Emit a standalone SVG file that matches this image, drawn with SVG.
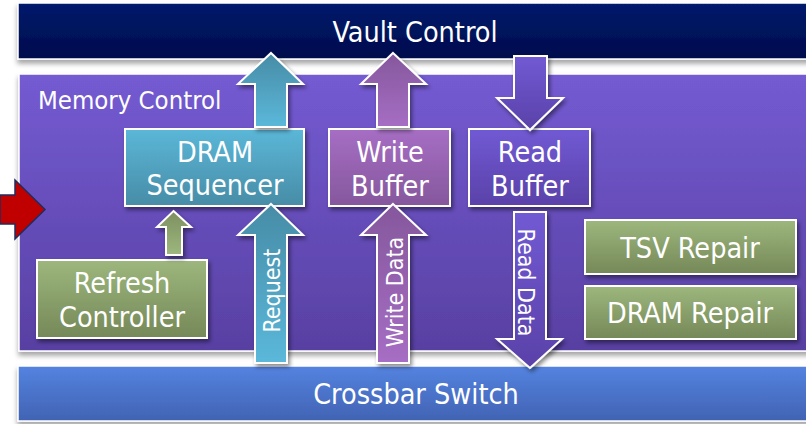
<svg xmlns="http://www.w3.org/2000/svg" width="806" height="424" viewBox="0 0 806 424">
<defs>
<linearGradient id="gVault" x1="0" y1="0" x2="0" y2="1"><stop offset="0" stop-color="#001a6c"/><stop offset="1" stop-color="#000c4c"/></linearGradient>
<linearGradient id="gMem" x1="0" y1="0" x2="0" y2="1"><stop offset="0" stop-color="#745bd2"/><stop offset="1" stop-color="#5840a2"/></linearGradient>
<linearGradient id="gXbar" x1="0" y1="0" x2="0" y2="1"><stop offset="0" stop-color="#5483e0"/><stop offset="1" stop-color="#4163b3"/></linearGradient>
<linearGradient id="gCyanBox" x1="0" y1="0" x2="0" y2="1"><stop offset="0" stop-color="#5bb7d8"/><stop offset="1" stop-color="#478ca6"/></linearGradient>
<linearGradient id="gCyanArr" x1="0" y1="0" x2="0" y2="1"><stop offset="0" stop-color="#478ca6"/><stop offset="1" stop-color="#5bb8da"/></linearGradient>
<linearGradient id="gPurBox" x1="0" y1="0" x2="0" y2="1"><stop offset="0" stop-color="#a66ec4"/><stop offset="1" stop-color="#85579c"/></linearGradient>
<linearGradient id="gPurArr" x1="0" y1="0" x2="0" y2="1"><stop offset="0" stop-color="#85579c"/><stop offset="1" stop-color="#a66ec4"/></linearGradient>
<linearGradient id="gRead" x1="0" y1="0" x2="0" y2="1"><stop offset="0" stop-color="#715ad4"/><stop offset="1" stop-color="#5a41a8"/></linearGradient>
<linearGradient id="gGreenBox" x1="0" y1="0" x2="0" y2="1"><stop offset="0" stop-color="#9db77d"/><stop offset="1" stop-color="#758858"/></linearGradient>
<linearGradient id="gGreenArr" x1="0" y1="0" x2="0" y2="1"><stop offset="0" stop-color="#7d9060"/><stop offset="1" stop-color="#9db77d"/></linearGradient>
<filter id="sh" x="-20%" y="-20%" width="140%" height="150%"><feDropShadow dx="2" dy="3" stdDeviation="2" flood-color="#000" flood-opacity="0.45"/></filter>
<filter id="shBand" x="-5%" y="-20%" width="110%" height="150%"><feDropShadow dx="0" dy="4" stdDeviation="2.5" flood-color="#000" flood-opacity="0.35"/></filter>
</defs>
<style>
.band{stroke:#ffffff;stroke-width:1.5;filter:url(#shBand)}
.box{stroke:#ffffff;stroke-width:2;filter:url(#sh)}
.arr{stroke:#ffffff;stroke-width:2;stroke-linejoin:miter;filter:url(#sh)}
text{font-family:"DejaVu Sans Condensed","DejaVu Sans","Liberation Sans",sans-serif;font-stretch:condensed;fill:#ffffff;text-anchor:middle}
.big{font-size:28.5px}
.lbl{font-size:23px}
</style>
<rect width="806" height="424" fill="#ffffff"/>
<g id="vault-control">
<rect class="band" x="18" y="3" width="800" height="56" fill="url(#gVault)"/>
<text class="big" x="415" y="42">Vault Control</text>
</g>
<g id="memory-control">
<rect class="band" x="19" y="74" width="800" height="277" fill="url(#gMem)"/>
<text style="font-size:25.5px;text-anchor:start" x="38" y="109">Memory Control</text>
</g>
<g id="crossbar-switch">
<rect class="band" x="18" y="366" width="800" height="55" fill="url(#gXbar)"/>
<text class="big" x="416" y="404">Crossbar Switch</text>
</g>
<g id="dram-sequencer">
<rect class="box" x="125" y="129" width="179" height="77" fill="url(#gCyanBox)"/>
<text class="big" x="215" y="162">DRAM</text>
<text class="big" x="215" y="195">Sequencer</text>
</g>
<g id="write-buffer">
<rect class="box" x="329" y="129" width="121" height="77" fill="url(#gPurBox)"/>
<text class="big" x="390" y="162">Write</text>
<text class="big" x="390" y="196">Buffer</text>
</g>
<g id="read-buffer">
<rect class="box" x="469" y="129" width="121" height="77" fill="url(#gRead)"/>
<text class="big" x="530" y="162">Read</text>
<text class="big" x="530" y="196">Buffer</text>
</g>
<g id="refresh-controller">
<rect class="box" x="37" y="260" width="170" height="78" fill="url(#gGreenBox)"/>
<text class="big" x="122" y="293">Refresh</text>
<text class="big" x="122" y="327">Controller</text>
</g>
<g id="tsv-repair">
<rect class="box" x="585" y="220" width="211" height="54" fill="url(#gGreenBox)"/>
<text class="big" x="690" y="258">TSV Repair</text>
</g>
<g id="dram-repair">
<rect class="box" x="585" y="286" width="211" height="53" fill="url(#gGreenBox)"/>
<text class="big" x="690" y="323">DRAM Repair</text>
</g>
<g id="connectors">
<polygon points="0,195 15,195 15,180 45,209.5 15,239 15,224 0,224" fill="#c00000" stroke="#1f2d5e" stroke-width="1.5"/>
<polygon class="arr" points="271,53 303,84 287,84 287,127 255,127 255,84 238,84" fill="url(#gCyanArr)"/>
<polygon class="arr" points="393,53 426,84 409,84 409,127 377,127 377,84 361,84" fill="url(#gPurArr)"/>
<polygon class="arr" points="514,56 547,56 547,98 563,98 530,130 497,98 514,98" fill="url(#gRead)"/>
<polygon class="arr" points="173.5,211 191,227 182,227 182,255 166,255 166,227 157,227" fill="url(#gGreenArr)"/>
<polygon class="arr" points="271,204 303,235 287,235 287,363 255,363 255,235 238,235" fill="url(#gCyanArr)"/>
<polygon class="arr" points="393,204 426,235 409,235 409,363 377,363 377,235 361,235" fill="url(#gPurArr)"/>
<polygon class="arr" points="514,212 546,212 546,339 562,339 530,368 497,339 514,339" fill="url(#gRead)"/>
<text class="lbl" transform="translate(280,290.5) rotate(-90)">Request</text>
<text class="lbl" transform="translate(403,292) rotate(-90)">Write Data</text>
<text class="lbl" transform="translate(518,282.5) rotate(90)">Read Data</text>
</g>
</svg>
